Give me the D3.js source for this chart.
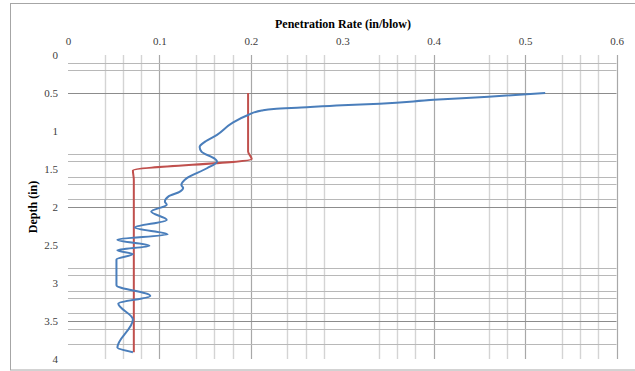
<!DOCTYPE html>
<html>
<head>
<meta charset="utf-8">
<script src="https://cdn.jsdelivr.net/npm/d3@7"></script>
<style>
  html, body { margin: 0; padding: 0; background: #fff; }
  svg { display: block; }
</style>
</head>
<body>
<svg id="chart" width="635" height="371"></svg>
<script>
// ---- data ----
const xTicks = [0, 0.1, 0.2, 0.3, 0.4, 0.5, 0.6];
const yTicks = [0, 0.5, 1, 1.5, 2, 2.5, 3, 3.5, 4];
// gridlines visible in the reference
const xMajorGrid = [0.1, 0.2, 0.4, 0.5, 0.6];
const xMinorGrid = [0.04, 0.06, 0.08, 0.14, 0.16, 0.18, 0.24, 0.26, 0.28, 0.34, 0.36, 0.38, 0.46, 0.48, 0.54, 0.56, 0.58];
const yMajorGrid = [0.5, 2.0, 3.5];
const yMinorGrid = [0.1, 0.2, 1.3, 1.4, 1.6, 1.7, 1.9, 2.8, 2.9, 3.1, 3.2, 3.4, 3.6, 3.8];

// series: penetration rate (in/blow) vs depth (in)
const blueRate  = [0.522, 0.46, 0.40, 0.341, 0.30, 0.255, 0.225, 0.212, 0.197, 0.179, 0.163, 0.150, 0.144, 0.146, 0.161, 0.163, 0.152, 0.130, 0.124, 0.126, 0.122, 0.110, 0.106, 0.108, 0.091, 0.108, 0.073, 0.109, 0.054, 0.089, 0.054, 0.071, 0.053, 0.053, 0.090, 0.055, 0.071, 0.054, 0.071];
const blueDepth = [0.50, 0.55, 0.59, 0.64, 0.66, 0.69, 0.71, 0.73, 0.79, 0.90, 1.05, 1.14, 1.21, 1.27, 1.37, 1.40, 1.49, 1.62, 1.71, 1.75, 1.80, 1.86, 1.93, 1.97, 2.06, 2.17, 2.27, 2.36, 2.43, 2.51, 2.57, 2.62, 2.69, 3.03, 3.17, 3.27, 3.48, 3.85, 3.91];
const redRate   = [0.197, 0.197, 0.201, 0.071, 0.072, 0.072];
const redDepth  = [0.50, 1.27, 1.37, 1.52, 1.64, 3.91];

// ---- layout ----
const svg = d3.select("#chart");
const x = d3.scaleLinear().domain([0, 0.6]).range([68, 616.5]);
const y = d3.scaleLinear().domain([0, 4]).range([55, 359]);
const serif = "'Liberation Serif', 'Times New Roman', serif";

// outer frame
svg.append("rect").attr("x", 10.5).attr("y", 3.5).attr("width", 640).attr("height", 366.5)
  .attr("fill", "none").attr("stroke", "#a6a6a6").attr("stroke-width", 1);

const grid = svg.append("g");
grid.selectAll(".vmin").data(xMinorGrid).join("line")
  .attr("x1", d => Math.round(x(d)) + 0.5).attr("x2", d => Math.round(x(d)) + 0.5)
  .attr("y1", y(0)).attr("y2", y(4))
  .attr("stroke", "#d4d4d4").attr("stroke-width", 1.4);
grid.selectAll(".vmaj").data(xMajorGrid).join("line")
  .attr("x1", d => Math.round(x(d)) + 0.5).attr("x2", d => Math.round(x(d)) + 0.5)
  .attr("y1", y(0)).attr("y2", y(4))
  .attr("stroke", "#a8a8a8").attr("stroke-width", 1.2);
grid.selectAll(".hmin").data(yMinorGrid).join("line")
  .attr("x1", x(0)).attr("x2", x(0.6))
  .attr("y1", d => Math.round(y(d)) + 0.5).attr("y2", d => Math.round(y(d)) + 0.5)
  .attr("stroke", "#b8b8b8").attr("stroke-width", 1);
grid.selectAll(".hmaj").data(yMajorGrid).join("line")
  .attr("x1", x(0)).attr("x2", x(0.6))
  .attr("y1", d => Math.round(y(d)) + 0.5).attr("y2", d => Math.round(y(d)) + 0.5)
  .attr("stroke", "#8c8c8c").attr("stroke-width", 1);

// axes (labels only)
const xAxis = d3.axisTop(x).tickValues(xTicks).tickSize(0).tickPadding(0).tickFormat(d3.format("~g"));
const gx = svg.append("g").attr("transform", "translate(0,45)").call(xAxis);
gx.select(".domain").remove();
gx.selectAll("text").attr("font-family", serif).attr("font-size", 11).attr("fill", "#404040")
  .attr("dy", 0);

const yAxis = d3.axisLeft(y).tickValues(yTicks).tickSize(0).tickPadding(0).tickFormat(d3.format("~g"));
const gy = svg.append("g").attr("transform", "translate(58,0)").call(yAxis);
gy.select(".domain").remove();
gy.selectAll("text").attr("font-family", serif).attr("font-size", 11).attr("fill", "#404040");

// titles
svg.append("text").attr("x", 343).attr("y", 28).attr("text-anchor", "middle")
  .attr("font-family", serif).attr("font-weight", "bold").attr("font-size", 12).attr("fill", "#000")
  .text("Penetration Rate (in/blow)");
svg.append("text").attr("transform", "translate(37,207) rotate(-90)").attr("text-anchor", "middle")
  .attr("font-family", serif).attr("font-weight", "bold").attr("font-size", 12).attr("fill", "#000")
  .text("Depth (in)");

// series
const line = d3.line().x(d => x(d[0])).y(d => y(d[1])).curve(d3.curveMonotoneY);
const redPts = redRate.map((v, i) => [v, redDepth[i]]);
const bluePts = blueRate.map((v, i) => [v, blueDepth[i]]);
svg.append("path").attr("d", line(redPts)).attr("fill", "none")
  .attr("stroke", "#c0504d").attr("stroke-width", 2).attr("stroke-linejoin", "round");
svg.append("path").attr("d", line(bluePts)).attr("fill", "none")
  .attr("stroke", "#4a7ebb").attr("stroke-width", 2).attr("stroke-linejoin", "round");
</script>
</body>
</html>
